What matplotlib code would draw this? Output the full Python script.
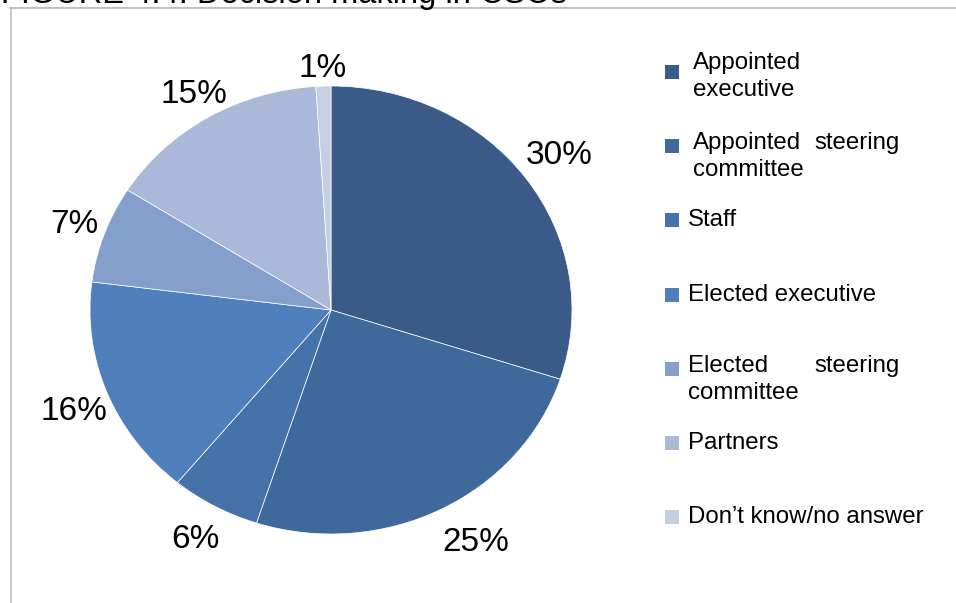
import matplotlib
matplotlib.use("Agg")
import matplotlib.pyplot as plt
from matplotlib.lines import Line2D
from matplotlib.patches import Rectangle
import numpy as np

plt.rcParams["font.family"] = ["Liberation Sans", "DejaVu Sans"]

# Data
categories = [
    "Appointed\nexecutive",
    "Appointed steering\ncommittee",
    "Staff",
    "Elected executive",
    "Elected steering\ncommittee",
    "Partners",
    "Don\u2019t know/no answer",
]
shares = [30, 25, 6, 16, 7, 15, 1]
title = "FIGURE 4.4: Decision making in CSOs"

colors = ["#3A5B88", "#3F689B", "#4672AA", "#4F80BC", "#849FCB", "#AAB9D7", "#C4CFE3"]
label_radius = [1.17, 1.2, 1.17, 1.16, 1.13, 1.12, 1.08]
label_shift = [0.0, 3.0, 0.0, 1.5, 0.0, 0.0, 0.0]   # degrees, along the arc

W, H = 956, 603
fig = plt.figure(figsize=(W / 100, H / 100), dpi=100)


def fx(px):
    return px / W


def fy(py):
    return 1 - py / H


# outer frame (top and left edges visible)
fig.add_artist(Line2D([fx(10), fx(W + 5)], [fy(8), fy(8)], color="#BFBFBF", lw=1.5,
                      transform=fig.transFigure))
fig.add_artist(Line2D([fx(10.5), fx(10.5)], [fy(8), fy(H + 5)], color="#BFBFBF", lw=1.2,
                      transform=fig.transFigure))

# title, partially running off the top edge
fig.text(fx(1), fy(2.5), title, fontsize=23.5, va="baseline", ha="left", color="black")

# pie (slightly elliptical, as in the original drawing)
cx, cy, rx, ry = 331, 310, 241, 224
ax = fig.add_axes([fx(cx - rx), fy(cy + ry), (2 * rx) / W, (2 * ry) / H])
wedges, _ = ax.pie(shares, colors=colors, startangle=90, counterclock=False,
                   wedgeprops=dict(edgecolor="white", linewidth=0.5))
ax.set_aspect("auto")
ax.set_xlim(-1, 1)
ax.set_ylim(-1, 1)
ax.axis("off")

for w, v, r, s in zip(wedges, shares, label_radius, label_shift):
    ang = np.deg2rad((w.theta1 + w.theta2) / 2 + s)
    ax.text(r * np.cos(ang), r * np.sin(ang), f"{v}%", fontsize=24,
            ha="center", va="center", clip_on=False)

# legend
marker_x, marker_size = 672, 14
y0, dy = 72, 74.2
text_x = [693, 693, 688, 688, 688, 688, 688]
first_line_offset = [-9, -3, 0, 0, -3, 0, 0]
right_edge = 900
line_gap = 27
fs = 17.3
for i, (name, col) in enumerate(zip(categories, colors)):
    yc = y0 + i * dy
    fig.add_artist(Rectangle((fx(marker_x - marker_size / 2), fy(yc + marker_size / 2)),
                             marker_size / W, marker_size / H, facecolor=col,
                             edgecolor="none", transform=fig.transFigure))
    lines = name.split("\n")
    if len(lines) == 1:
        fig.text(fx(text_x[i]), fy(yc), lines[0], fontsize=fs, va="center", ha="left")
        continue
    first_y = yc + first_line_offset[i]
    words = lines[0].split()
    if len(words) > 1:
        fig.text(fx(text_x[i]), fy(first_y), words[0], fontsize=fs, va="center", ha="left")
        fig.text(fx(right_edge), fy(first_y), " ".join(words[1:]), fontsize=fs,
                 va="center", ha="right")
    else:
        fig.text(fx(text_x[i]), fy(first_y), words[0], fontsize=fs, va="center", ha="left")
    for k, ln in enumerate(lines[1:], start=1):
        fig.text(fx(text_x[i]), fy(first_y + k * line_gap), ln, fontsize=fs,
                 va="center", ha="left")

fig.savefig("out.png", dpi=100)
